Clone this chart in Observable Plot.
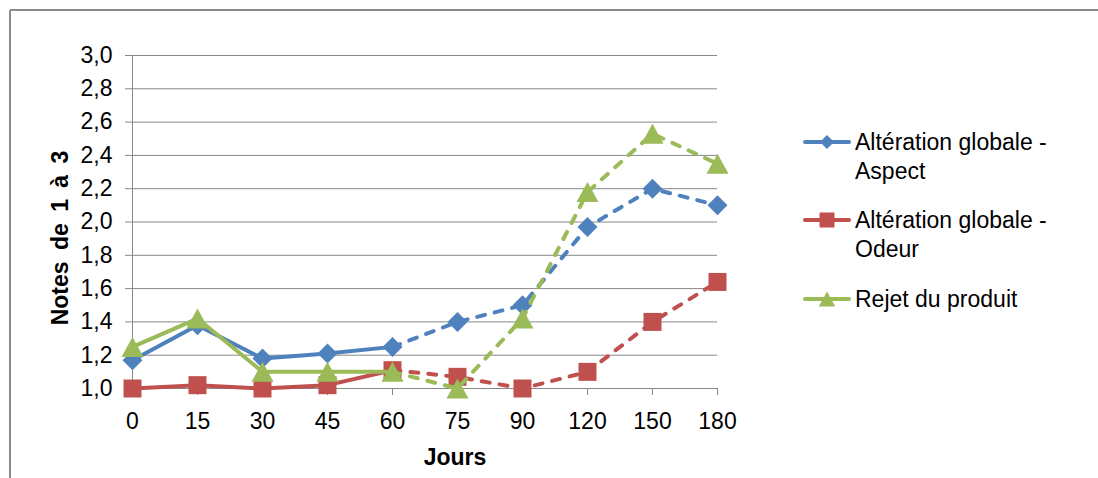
<!DOCTYPE html>
<html>
<head>
<meta charset="utf-8">
<script src="https://cdn.jsdelivr.net/npm/d3@7"></script>
<script src="https://cdn.jsdelivr.net/npm/@observablehq/plot@0.6"></script>
<style>
  html, body { margin: 0; padding: 0; background: #fff; overflow: hidden; }
</style>
</head>
<body>
<div id="chart"></div>
<script>
// Sampling days (categorical axis, evenly spaced)
const days = ["0", "15", "30", "45", "60", "75", "90", "120", "150", "180"];

// Scores (1 to 3) per series
const aspect = [1.17, 1.38, 1.18, 1.21, 1.25, 1.40, 1.50, 1.97, 2.20, 2.10];
const odeur  = [1.00, 1.02, 1.00, 1.02, 1.11, 1.07, 1.00, 1.10, 1.40, 1.64];
const rejet  = [1.25, 1.42, 1.10, 1.10, 1.10, 1.00, 1.42, 2.18, 2.53, 2.35];

const seriesNames = ["Altération globale - Aspect", "Altération globale - Odeur", "Rejet du produit"];
const legendLabels = [["Altération globale -", "Aspect"], ["Altération globale -", "Odeur"], ["Rejet du produit"]];
const yTicks = [1.0, 1.2, 1.4, 1.6, 1.8, 2.0, 2.2, 2.4, 2.6, 2.8, 3.0];

// Index of the last day drawn with a solid line; later days are dashed
const dashFrom = 4;

const colors = ["#4F81BD", "#C0504D", "#9BBB59"];

// Excel-like marker shapes, scaled from the dot radius
const rOf = size => Math.sqrt(size / Math.PI);
const diamond = { draw(ctx, size) { const h = rOf(size); ctx.moveTo(0, -h); ctx.lineTo(h, 0); ctx.lineTo(0, h); ctx.lineTo(-h, 0); ctx.closePath(); } };
const square = { draw(ctx, size) { const h = rOf(size); ctx.moveTo(-h, -h); ctx.lineTo(h, -h); ctx.lineTo(h, h); ctx.lineTo(-h, h); ctx.closePath(); } };
const triangle = { draw(ctx, size) { const h = rOf(size); ctx.moveTo(0, -h); ctx.lineTo(1.1 * h, h); ctx.lineTo(-1.1 * h, h); ctx.closePath(); } };

const series = [
  { name: seriesNames[0], values: aspect, color: colors[0], symbol: diamond, r: 10, lr: 7 },
  { name: seriesNames[1], values: odeur,  color: colors[1], symbol: square,  r: 9,  lr: 7.5 },
  { name: seriesNames[2], values: rejet,  color: colors[2], symbol: triangle, r: 10, lr: 7.5 }
];

const rows = s => s.values.map((v, i) => ({ day: days[i], value: v, i }));

const seriesMarks = series.flatMap(s => {
  const data = rows(s);
  const common = { x: "day", y: "value", stroke: s.color, strokeWidth: 4, strokeLinejoin: "round", strokeLinecap: "round" };
  return [
    Plot.line(data.filter(d => d.i <= dashFrom), common),
    Plot.line(data.filter(d => d.i >= dashFrom), { ...common, strokeDasharray: "8,10" }),
    Plot.dot(data, { x: "day", y: "value", symbol: s.symbol, r: s.r, fill: s.color, stroke: "none" })
  ];
});

const fmt = d => d.toFixed(1).replace(".", ",");

const chart = Plot.plot({
  width: 1098,
  height: 478,
  marginLeft: 132,
  marginRight: 381,
  marginTop: 55,
  marginBottom: 90,
  style: { fontFamily: "'Liberation Sans', Arial, sans-serif", fontSize: "23px", color: "#000", background: "#fff", overflow: "visible" },
  x: { type: "point", domain: days, padding: 0 },
  y: { domain: [1, 3] },
  marks: [
    Plot.ruleY(yTicks, { stroke: "#878787", strokeWidth: 1 }),
    Plot.ruleX([days[0]], { stroke: "#878787", strokeWidth: 1 }),
    Plot.axisY(yTicks, { tickSize: 7, tickPadding: 13, stroke: "#878787", fill: "#000", tickFormat: fmt, label: null }),
    Plot.axisX({ tickSize: 7, tickPadding: 17, stroke: "#878787", fill: "#000", label: null }),
    ...seriesMarks
  ]
});

document.getElementById("chart").appendChild(chart);

const svg = d3.select(chart);
const font = "'Liberation Sans', Arial, sans-serif";

// Chart frame
svg.append("line").attr("x1", 10).attr("y1", 10).attr("x2", 1098).attr("y2", 10)
  .attr("stroke", "#8c8c8c").attr("stroke-width", 2);
svg.append("line").attr("x1", 10).attr("y1", 10).attr("x2", 10).attr("y2", 478)
  .attr("stroke", "#8c8c8c").attr("stroke-width", 2);

// Axis titles
svg.append("text").attr("x", 455).attr("y", 465)
  .attr("text-anchor", "middle").attr("font-family", font).attr("font-size", 23)
  .attr("font-weight", "bold").attr("fill", "#000").text("Jours");
svg.append("text").attr("transform", "translate(68,238) rotate(-90)")
  .attr("text-anchor", "middle").attr("font-family", font).attr("font-size", 23)
  .attr("font-weight", "bold").attr("word-spacing", "5px").attr("fill", "#000").text("Notes de 1 à 3");

// Legend
const legendY = [142, 220, 299];
const legend = svg.append("g").attr("text-anchor", "start");
series.forEach((s, k) => {
  const y = legendY[k];
  legend.append("line").attr("x1", 805).attr("x2", 849).attr("y1", y).attr("y2", y)
    .attr("stroke", s.color).attr("stroke-width", 4).attr("stroke-linecap", "round");
  const p = d3.path();
  s.symbol.draw(p, s.lr * s.lr * Math.PI);
  legend.append("path").attr("transform", `translate(827,${y})`).attr("d", p.toString()).attr("fill", s.color);
  const t = legend.append("text").attr("text-anchor", "start").attr("font-family", font)
    .attr("font-size", 23).attr("fill", "#000");
  legendLabels[k].forEach((line, j) => {
    t.append("tspan").attr("x", 855).attr("y", y + 8 + j * 29).text(line);
  });
});
</script>
</body>
</html>
